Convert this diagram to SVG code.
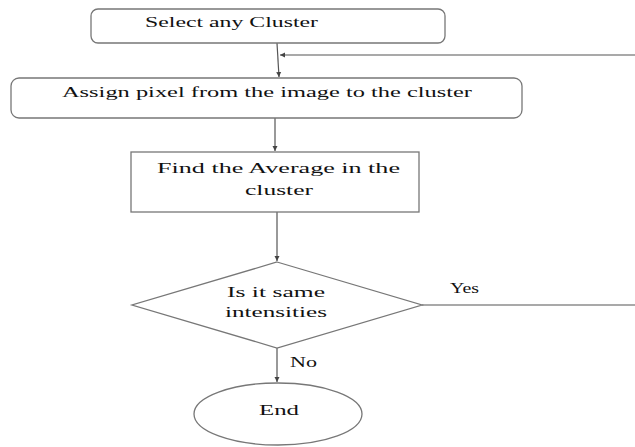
<svg xmlns="http://www.w3.org/2000/svg" width="635" height="447" viewBox="0 0 635 447">
<defs>
<style>
.n{fill:#fff;stroke:#777;stroke-width:1.3}
.c{fill:none;stroke:#555;stroke-width:1.2}
.t{font-family:'Liberation Serif','DejaVu Serif','Times New Roman',serif;font-size:15px;fill:#111}
</style>
<marker id="a" markerWidth="6" markerHeight="6" refX="5" refY="3" orient="auto" markerUnits="userSpaceOnUse">
<path d="M0,0.5 L5,3 L0,5.5 Z" fill="#444"/>
</marker>
</defs>
<rect width="635" height="447" fill="#fff"/>
<g id="connectors">
<line class="c" x1="277" y1="43" x2="279" y2="77" marker-end="url(#a)"/>
<line class="c" x1="635" y1="55" x2="280" y2="55" marker-end="url(#a)"/>
<line class="c" x1="275" y1="118" x2="275" y2="151" marker-end="url(#a)"/>
<line class="c" x1="277" y1="212" x2="277" y2="261" marker-end="url(#a)"/>
<line class="c" x1="422" y1="305" x2="635" y2="305"/>
<line class="c" x1="277" y1="348" x2="277" y2="382" marker-end="url(#a)"/>
<text class="t" x="450" y="293" textLength="29" lengthAdjust="spacingAndGlyphs">Yes</text>
<text class="t" x="290" y="367" textLength="27" lengthAdjust="spacingAndGlyphs">No</text>
</g>
<g id="select">
<rect class="n" x="91" y="9" width="354" height="34" rx="7"/>
<text class="t" x="145" y="27" textLength="173" lengthAdjust="spacingAndGlyphs">Select any Cluster</text>
</g>
<g id="assign">
<rect class="n" x="11" y="78" width="511" height="40" rx="8"/>
<text class="t" x="62" y="97" textLength="410" lengthAdjust="spacingAndGlyphs">Assign pixel from the image to the cluster</text>
</g>
<g id="average">
<rect class="n" x="131" y="152" width="288" height="60"/>
<text class="t" x="157" y="173" textLength="243" lengthAdjust="spacingAndGlyphs">Find the Average in the</text>
<text class="t" x="245" y="195" textLength="68" lengthAdjust="spacingAndGlyphs">cluster</text>
</g>
<g id="decision">
<polygon class="n" points="277,262 422,305 277,348 132,305"/>
<text class="t" x="227" y="297" textLength="98" lengthAdjust="spacingAndGlyphs">Is it same</text>
<text class="t" x="225" y="317" textLength="102" lengthAdjust="spacingAndGlyphs">intensities</text>
</g>
<g id="end">
<ellipse class="n" cx="278" cy="414" rx="84" ry="31"/>
<text class="t" x="259" y="415" textLength="40" lengthAdjust="spacingAndGlyphs">End</text>
</g>
</svg>
